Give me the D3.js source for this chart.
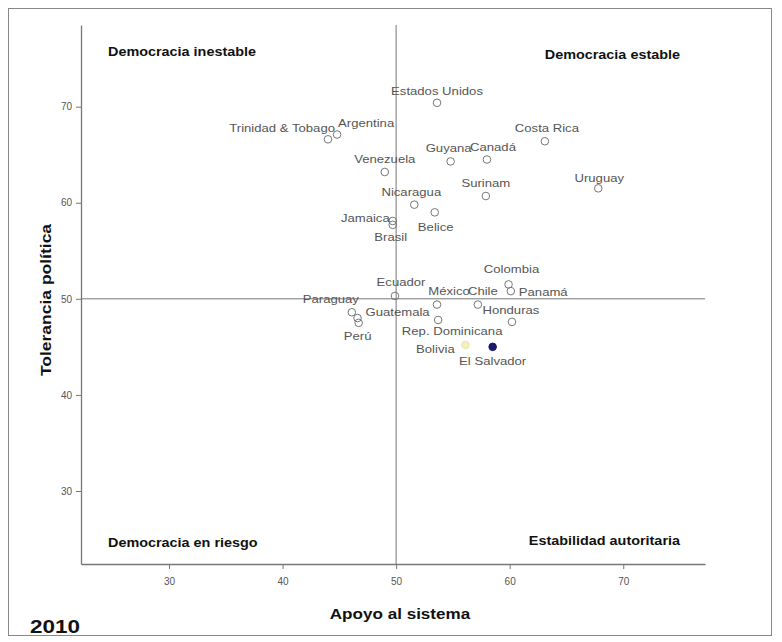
<!DOCTYPE html>
<html><head><meta charset="utf-8">
<script src="https://cdn.jsdelivr.net/npm/d3@7"></script>
<style>body{margin:0;background:#fff;font-family:"Liberation Sans",Arial,sans-serif}</style>
</head><body><svg id="c" width="782" height="642"></svg>
<script>
const countries = ["Estados Unidos","Trinidad & Tobago","Argentina","Costa Rica","Guyana","Canadá","Venezuela","Uruguay","Surinam","Nicaragua","Belice","Jamaica","Brasil","Colombia","Panamá","Ecuador","México","Chile","Honduras","Paraguay","Guatemala","Perú","Rep. Dominicana","Bolivia","El Salvador"];
const apoyo =      [53.6, 44.0, 44.8, 63.1, 54.8, 58.0, 49.0, 67.8, 57.9, 51.6, 53.4, 49.7, 49.7, 59.9, 60.1, 49.9, 53.6, 57.2, 60.2, 46.1, 46.6, 46.7, 53.7, 56.1, 58.5];
const tolerancia = [70.4, 66.6, 67.1, 66.4, 64.3, 64.5, 63.2, 61.5, 60.7, 59.8, 59.0, 58.1, 57.7, 51.5, 50.8, 50.3, 49.4, 49.4, 47.6, 48.6, 48.0, 47.5, 47.8, 45.2, 45.0];
const highlight = {"El Salvador":"#1a1a6e","Bolivia":"#f4f0c0"};
const xTicks = [30,40,50,60,70];
const yTicks = [30,40,50,60,70];
const quadrants = ["Democracia inestable","Democracia estable","Democracia en riesgo","Estabilidad autoritaria"];
const xTitle = "Apoyo al sistema", yTitle = "Tolerancia política", yearLabel = "2010";

// label placement (layout only): [dx, dy, anchor]
const labelOffset = {
 "Estados Unidos":[0,-11,"middle"],"Trinidad & Tobago":[7,-10,"end"],"Argentina":[1,-11,"start"],
 "Costa Rica":[2,-12,"middle"],"Guyana":[-2,-12,"middle"],"Canadá":[6,-12,"middle"],
 "Venezuela":[0,-12,"middle"],"Uruguay":[1,-9,"middle"],"Surinam":[0,-12,"middle"],
 "Nicaragua":[-3,-12,"middle"],"Belice":[1,16,"middle"],"Jamaica":[-3,-2,"end"],
 "Brasil":[-2,13,"middle"],"Colombia":[3,-14,"middle"],"Panamá":[8,2,"start"],
 "Ecuador":[6,-13,"middle"],"México":[12,-13,"middle"],"Chile":[5,-13,"middle"],
 "Honduras":[-1,-11,"middle"],"Paraguay":[-21,-12,"middle"],"Guatemala":[8,-5,"start"],
 "Perú":[-1,14,"middle"],"Rep. Dominicana":[14,12,"middle"],"Bolivia":[-30,5,"middle"],
 "El Salvador":[0,15,"middle"]};

const SX = 1.25; // horizontal stretch of the source image's lettering
const data = countries.map((c,i)=>({name:c,x:apoyo[i],y:tolerancia[i]}));
const svg = d3.select("#c");
svg.append("rect").attr("x",8.5).attr("y",8.5).attr("width",763).attr("height",627)
  .attr("fill","none").attr("stroke","#888").attr("stroke-width",1);

const x = d3.scaleLinear().domain([22.25,77.2]).range([81,705]);
const y = d3.scaleLinear().domain([22.4,78.5]).range([564,25]);

// axes
const xa = svg.append("g").attr("transform","translate(0,564)")
  .call(d3.axisBottom(x).tickValues(xTicks).tickSize(5).tickSizeOuter(0).tickPadding(9));
const ya = svg.append("g").attr("transform","translate(81,0)")
  .call(d3.axisLeft(y).tickValues(yTicks).tickSize(5).tickSizeOuter(0).tickPadding(4));
[xa,ya].forEach(a=>{a.select(".domain").attr("stroke","#777").attr("stroke-width",1.3);
  a.selectAll(".tick line").attr("stroke","#777");
  a.selectAll("text").attr("fill","#555").attr("font-size",10).attr("font-family","Liberation Sans, Arial");});

// reference lines
svg.append("line").attr("x1",x(50)).attr("x2",x(50)).attr("y1",y.range()[1]).attr("y2",564)
  .attr("stroke","#777").attr("stroke-width",1);
svg.append("line").attr("x1",81).attr("x2",705).attr("y1",y(50)).attr("y2",y(50))
  .attr("stroke","#777").attr("stroke-width",1);

// points
svg.append("g").selectAll("circle").data(data).join("circle")
  .attr("cx",d=>x(d.x)).attr("cy",d=>y(d.y)).attr("r",3.8)
  .attr("fill",d=>highlight[d.name]||"none")
  .attr("stroke",d=>d.name==="El Salvador"?"#1a1a6e":(d.name==="Bolivia"?"#e8e4b0":"#777"))
  .attr("stroke-width",1);

svg.append("g").selectAll("text").data(data).join("text")
  .attr("transform",d=>`translate(${x(d.x)+labelOffset[d.name][0]},${y(d.y)+labelOffset[d.name][1]+3}) scale(${SX},1)`)
  .attr("text-anchor",d=>labelOffset[d.name][2])
  .attr("font-size",10.5).attr("fill","#555").text(d=>d.name);

// quadrant labels
const qpos=[[108,56,"start"],[680,59,"end"],[108,547,"start"],[680,545,"end"]];
svg.append("g").selectAll("text").data(quadrants).join("text")
  .attr("transform",(d,i)=>`translate(${qpos[i][0]},${qpos[i][1]}) scale(1.2,1)`)
  .attr("text-anchor",(d,i)=>qpos[i][2])
  .attr("font-size",12).attr("font-weight","bold").attr("fill","#111").text(d=>d);

svg.append("text").attr("transform","translate(400,619) scale(1.22,1)").attr("text-anchor","middle")
  .attr("font-size",14).attr("font-weight","bold").attr("fill","#111").text(xTitle);
svg.append("text").attr("transform","translate(51,300) rotate(-90) scale(1.25,1)").attr("text-anchor","middle")
  .attr("font-size",14).attr("font-weight","bold").attr("fill","#111").text(yTitle);
svg.append("text").attr("transform","translate(30,633) scale(1.25,1)").attr("font-size",18).attr("font-weight","bold")
  .attr("fill","#111").text(yearLabel);
</script></body></html>
